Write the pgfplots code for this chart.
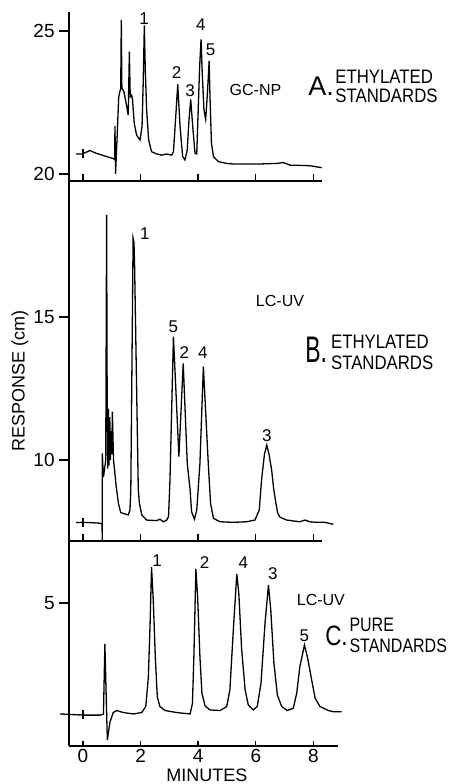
\documentclass[border=0pt]{standalone}
\usepackage{fontspec}
\setmainfont{Liberation Sans}
\usepackage{pgfplots}
\pgfplotsset{compat=1.18}
% 1 px of the reference = 0.5pt
\newcommand\pkfont{\fontsize{8.5}{10}\selectfont}
\newcommand\detfont{\fontsize{8}{10}\selectfont}
\newcommand\ttl[2][0.86]{\scalebox{#1}[1]{#2}}
\newcommand\panel[3]{\fontsize{#1}{#1}\selectfont\scalebox{#2}[1]{#3}}
\begin{document}
\begin{tikzpicture}
\begin{axis}[
  x=14.4pt, y=14.3pt,
  xmin=-0.486, xmax=8.85, ymin=0, ymax=25.66,
  axis x line*=bottom, axis y line*=left,
  axis line style={line width=0.9pt, -},
  clip=false,
  xtick={0,2,4,6,8}, ytick={5,10,15,20,25},
  xtick style={draw=none},
  ytick style={line width=0.8pt, black},
  major tick length=5pt, tick align=outside,
  /pgf/number format/assume math mode=true,
  ticklabel style={font=\fontsize{9.5}{11}\selectfont},
  xticklabel style={inner sep=1.5pt, yshift=5pt},
  yticklabel style={inner sep=2pt},
  unbounded coords=jump,
]
% panel separators and the short upward ticks
\addplot[line width=0.9pt] coordinates {(-0.486,19.76) (8.30,19.76)};
\addplot[line width=0.9pt] coordinates {(-0.486,7.18) (8.30,7.18)};
\addplot[line width=0.7pt] coordinates {
  (0,19.76) (0,20.0) (nan,nan) (2,19.76) (2,20.0) (nan,nan) (4,19.76) (4,20.0) (nan,nan)
  (6,19.76) (6,20.0) (nan,nan) (8,19.76) (8,20.0) (nan,nan)
  (0,7.18) (0,7.42) (nan,nan) (2,7.18) (2,7.42) (nan,nan) (4,7.18) (4,7.42) (nan,nan)
  (6,7.18) (6,7.42) (nan,nan) (8,7.18) (8,7.42) (nan,nan)
  (0,0) (0,0.18) (nan,nan) (2,0) (2,0.18) (nan,nan) (4,0) (4,0.18) (nan,nan)
  (6,0) (6,0.18) (nan,nan) (8,0) (8,0.18) (nan,nan)
  (0,20.55) (0,20.87) (nan,nan) (0,7.65) (0,7.97) (nan,nan) (0,0.93) (0,1.25)
};
% A: GC-NP, ethylated standards
\addplot[line width=0.65pt] coordinates {
  (-0.24,20.70) (-0.03,20.70) (0.24,20.82) (0.47,20.72) (0.82,20.61) (1.05,20.54)
  (1.10,20.51) (1.11,21.68) (1.13,20.00) (1.19,21.42) (1.24,22.70) (1.31,23.00)
  (1.33,25.38) (1.35,23.00) (1.42,22.88) (1.52,22.35) (1.57,22.06) (1.61,24.28)
  (1.64,22.70) (1.69,22.76) (1.72,22.59) (1.78,21.77) (1.86,21.36) (1.98,21.19)
  (2.05,21.66) (2.09,23.17) (2.13,25.20) (2.16,23.75) (2.21,22.24) (2.28,21.19)
  (2.38,20.78) (2.56,20.70) (2.73,20.66) (2.91,20.70) (3.08,20.66) (3.14,20.78)
  (3.22,22.00) (3.29,23.14) (3.37,21.66) (3.46,20.61) (3.54,20.49) (3.62,20.84)
  (3.68,21.89) (3.74,22.61) (3.81,21.66) (3.89,20.72) (3.95,20.70) (4.00,22.24)
  (4.05,23.75) (4.10,24.71) (4.14,23.52) (4.20,22.24) (4.26,21.91) (4.32,22.82)
  (4.38,23.95) (4.41,22.70) (4.46,21.07) (4.53,20.61) (4.70,20.43) (4.99,20.37)
  (5.22,20.35) (6.15,20.35) (6.72,20.37) (6.96,20.40) (7.19,20.31) (7.88,20.29)
  (8.29,20.22)
};
% B: LC-UV, ethylated standards
\addplot[line width=0.65pt] coordinates {
  (-0.24,7.81) (-0.05,7.82) (0.24,7.81) (0.59,7.79) (0.66,7.76) (0.67,7.18)
  (0.67,10.23) (0.71,9.40) (0.79,10.00) (0.82,18.57) (0.84,11.90) (0.86,9.70)
  (0.88,11.80) (0.90,9.80) (0.93,11.50) (0.95,10.00) (0.98,11.00) (1.00,10.20)
  (1.02,11.69) (1.06,10.00) (1.15,9.10) (1.23,8.48) (1.31,8.16) (1.57,8.08)
  (1.63,8.25) (1.66,8.95) (1.74,17.75) (1.77,17.60) (1.79,16.90) (1.92,8.95)
  (1.96,8.48) (2.04,8.08) (2.21,7.90) (2.56,7.88) (2.67,7.93) (2.79,7.84)
  (2.91,7.90) (2.97,8.02) (3.02,9.30) (3.14,14.31) (3.22,12.56) (3.33,10.12)
  (3.48,13.38) (3.62,9.88) (3.72,8.95) (3.77,8.19) (3.87,7.93) (3.95,8.25)
  (4.06,9.88) (4.18,13.26) (4.35,9.88) (4.43,8.48) (4.53,7.96) (4.76,7.84)
  (5.22,7.82) (5.68,7.84) (5.97,7.90) (6.12,8.25) (6.20,9.30) (6.30,10.20)
  (6.38,10.52) (6.46,10.20) (6.55,9.65) (6.62,9.00) (6.70,8.48) (6.76,8.15)
  (6.84,8.00) (7.07,7.90) (7.53,7.84) (7.71,7.90) (7.88,7.84) (8.11,7.82)
  (8.40,7.82) (8.69,7.75)
};
% C: LC-UV, pure standards
\addplot[line width=0.65pt] coordinates {
  (-0.80,1.12) (0.01,1.08) (0.59,1.08) (0.71,1.11) (0.76,3.57) (0.80,1.96)
  (0.845,0.21) (0.94,0.85) (1.05,1.17) (1.17,1.24) (1.40,1.17) (1.75,1.12)
  (2.04,1.17) (2.18,1.38) (2.27,2.42) (2.33,4.29) (2.38,6.25) (2.44,5.10)
  (2.51,3.12) (2.58,1.72) (2.67,1.38) (2.85,1.24) (3.25,1.17) (3.72,1.12)
  (3.80,1.49) (3.85,3.12) (3.92,6.19) (3.98,5.22) (4.06,3.12) (4.13,1.84)
  (4.24,1.40) (4.41,1.26) (4.76,1.24) (4.99,1.38) (5.10,1.96) (5.22,4.06)
  (5.34,6.01) (5.41,5.34) (5.51,3.36) (5.63,1.96) (5.74,1.43) (5.91,1.26)
  (6.05,1.38) (6.18,2.19) (6.32,4.29) (6.44,5.63) (6.52,4.76) (6.63,2.89)
  (6.75,1.78) (6.90,1.38) (7.09,1.24) (7.30,1.32) (7.42,1.84) (7.53,2.77)
  (7.69,3.53) (7.79,3.12) (7.94,2.31) (8.06,1.67) (8.23,1.38) (8.52,1.24)
  (8.69,1.20) (8.98,1.20)
};
% peak numbers
\node[font=\pkfont] at (axis cs:2.12,25.44) {1};
\node[font=\pkfont] at (axis cs:3.25,23.54) {2};
\node[font=\pkfont] at (axis cs:3.72,22.91) {3};
\node[font=\pkfont] at (axis cs:4.09,25.21) {4};
\node[font=\pkfont] at (axis cs:4.43,24.34) {5};
\node[font=\pkfont] at (axis cs:2.15,17.93) {1};
\node[font=\pkfont] at (axis cs:3.14,14.65) {5};
\node[font=\pkfont] at (axis cs:3.52,13.75) {2};
\node[font=\pkfont] at (axis cs:4.16,13.75) {4};
\node[font=\pkfont] at (axis cs:6.38,10.86) {3};
\node[font=\pkfont] at (axis cs:2.57,6.49) {1};
\node[font=\pkfont] at (axis cs:4.22,6.41) {2};
\node[font=\pkfont] at (axis cs:5.57,6.41) {4};
\node[font=\pkfont] at (axis cs:6.59,6.03) {3};
\node[font=\pkfont] at (axis cs:7.69,3.85) {5};
% detectors
\node[font=\detfont] at (axis cs:5.99,22.95) {GC-NP};
\node[font=\detfont] at (axis cs:6.84,15.55) {LC-UV};
\node[font=\detfont] at (axis cs:8.26,5.10) {LC-UV};
% panel titles
\node[anchor=west, inner sep=0pt] at (axis cs:7.81,23.07) {\panel{13.5}{1}{A.}};
\node[anchor=west, inner sep=0pt, align=left, font=\fontsize{9.75}{9.6}\selectfont]
  at (axis cs:8.75,23.07) {\ttl{ETHYLATED}\\\ttl{STANDARDS}};
\node[anchor=west, inner sep=0pt] at (axis cs:7.71,13.85) {\panel{18.5}{0.62}{B.}};
\node[anchor=west, inner sep=0pt, align=left, font=\fontsize{9.75}{10.2}\selectfont]
  at (axis cs:8.60,13.76) {\ttl{ETHYLATED}\\\ttl{STANDARDS}};
\node[anchor=west, inner sep=0pt] at (axis cs:8.40,3.85) {\panel{14}{0.8}{C.}};
\node[anchor=west, inner sep=0pt, align=left, font=\fontsize{9.75}{10.4}\selectfont]
  at (axis cs:9.24,3.86) {\ttl[0.82]{PURE}\\\ttl[0.82]{STANDARDS}};
% axis titles
\node[font=\fontsize{9}{11}\selectfont, rotate=90] at (axis cs:-2.19,12.76) {RESPONSE (cm)};
\node[font=\fontsize{9}{11}\selectfont] at (axis cs:4.30,-1.04) {MINUTES};
\coordinate (bbSW) at (axis cs:-2.882,-1.329);
\coordinate (bbNE) at (axis cs:12.708,26.084);
\end{axis}
\pgfresetboundingbox
\useasboundingbox (bbSW) rectangle (bbNE);
\end{tikzpicture}
\end{document}
